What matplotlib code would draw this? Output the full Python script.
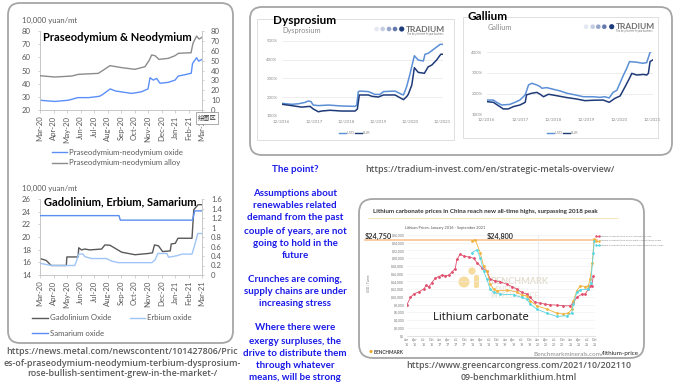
import matplotlib
matplotlib.use('Agg')
import matplotlib.pyplot as plt
from matplotlib.patches import FancyBboxPatch, Rectangle, Circle
from matplotlib.lines import Line2D

W, H = 680, 388
plt.rcParams['font.family'] = ['Lato', 'DejaVu Sans']

# ---------------- data ----------------
month_labels = ['Mar-20', 'Apr-20', 'May-20', 'Jun-20', 'Jul-20', 'Aug-20', 'Sep-20',
                'Oct-20', 'Nov-20', 'Dec-20', 'Jan-21', 'Feb-21', 'Mar-21']

# Praseodymium-neodymium oxide (left axis, 10,000 yuan/mt)
pn_oxide_month = [0, 1.1, 2.1, 2.8, 3.6, 4.4, 4.6, 5.2, 5.6, 6.8, 7.5, 8.0, 8.15, 8.4,
                  8.64, 8.89, 9.5, 10.0, 10.25, 10.6, 11.2, 11.3, 11.6, 11.75, 12.0]
pn_oxide = [27.4, 26.5, 27.4, 29.4, 29.4, 30.4, 31.5, 36.0, 34.4, 32.6, 33.8, 36.0, 44.5, 42.7,
            44.0, 40.3, 41.0, 42.7, 45.8, 46.5, 47.9, 55.4, 59.7, 57.1, 58.4]
# Praseodymium-neodymium alloy (right axis)
pn_alloy_month = [0, 1.11, 2.35, 2.84, 4.32, 5.19, 6.05, 7.04, 7.78, 8.10, 8.27, 8.52, 8.81,
                  9.51, 10.0, 10.25, 11.19, 11.33, 11.6, 11.78, 12.0]
pn_alloy = [34.7, 33.4, 34.4, 36.1, 37.1, 44.9, 42.9, 41.2, 43.9, 50.6, 55.7, 55.0, 51.3,
            52.3, 55.0, 57.4, 58.0, 67.5, 74.9, 71.9, 73.6]

# Gadolinium oxide (left axis)
gd_month = [0, 0.46, 0.83, 1.95, 1.99, 2.82, 2.87, 3.07, 3.32, 3.69, 4.56, 4.81, 5.18, 6.05,
            7.04, 8.03, 8.33, 8.48, 8.78, 9.08, 9.65, 9.72, 10.02, 10.22, 11.26, 11.39, 11.71, 12.0]
gd_oxide = [16.6, 16.3, 15.5, 15.5, 16.85, 16.85, 18.3, 17.96, 18.1, 17.96, 18.1, 18.75, 18.7,
            17.6, 17.2, 17.4, 17.5, 18.75, 18.6, 17.7, 17.8, 18.9, 19.0, 19.8, 19.8, 24.3, 25.1, 25.1]
# Erbium oxide (left axis)
er_month = [0, 0.83, 2.57, 2.69, 2.87, 3.19, 3.32, 3.81, 4.93, 5.30, 5.80, 8.28, 8.53, 8.73,
            9.40, 9.52, 10.15, 10.52, 11.26, 11.46, 11.69, 12.0]
er_oxide = [15.85, 15.5, 15.5, 16.1, 17.3, 17.3, 16.9, 16.6, 16.6, 16.2, 15.95, 15.95, 16.4,
            17.4, 17.4, 16.8, 17.05, 17.3, 17.3, 18.75, 20.55, 20.55]
# Samarium oxide (right axis)
sm_month = [0, 5.85, 5.95, 11.3, 11.46, 12.0]
sm_oxide = [1.25, 1.25, 1.155, 1.155, 1.35, 1.35]

tradium_years = ['12/2016', '12/2017', '12/2018', '12/2019', '12/2020', '12/2021']
# Dysprosium index (%), x in years since 12/2016
dy_usd_t = [0.02, 0.31, 0.52, 0.72, 0.83, 0.91, 0.98, 1.14, 1.45, 1.86, 2.28, 2.33, 2.38, 2.43,
            2.69, 2.90, 3.05, 3.16, 3.52, 3.73, 3.78, 3.88, 3.99, 4.12, 4.24, 4.40, 4.45, 4.55,
            4.76, 4.92, 5.0]
dy_usd = [166, 161, 164, 171, 179, 175, 157, 154, 157, 152, 150, 157, 229, 232, 229, 214, 214,
          229, 232, 214, 211, 255, 327, 421, 398, 393, 429, 434, 461, 482, 482]
dy_eur_t = [0.02, 0.31, 0.62, 0.88, 0.98, 1.14, 1.24, 1.50, 1.86, 2.28, 2.35, 2.41, 2.69, 2.80,
            3.00, 3.16, 3.52, 3.78, 3.88, 3.93, 4.04, 4.12, 4.24, 4.43, 4.55, 4.66, 4.81, 4.94, 5.0]
dy_eur = [161, 154, 146, 150, 136, 121, 125, 129, 125, 125, 136, 211, 211, 204, 200, 211, 211,
          186, 202, 214, 264, 357, 332, 327, 362, 371, 398, 429, 429]
# Gallium index (%)
ga_usd_t = [0.02, 0.20, 0.30, 0.45, 0.70, 0.85, 1.00, 1.16, 1.26, 1.36, 1.51, 1.61, 1.66, 1.81,
            1.96, 2.21, 2.41, 2.66, 2.91, 3.21, 3.41, 3.56, 3.69, 3.80, 3.92, 4.12, 4.22, 4.30,
            4.52, 4.70, 4.82, 4.92, 5.0]
ga_usd = [169, 169, 158, 145, 148, 158, 169, 194, 242, 250, 242, 234, 226, 229, 223, 213, 202,
          194, 185, 185, 182, 185, 179, 205, 216, 290, 323, 355, 352, 347, 350, 400, 410]
ga_eur_t = [0.02, 0.20, 0.35, 0.50, 0.65, 0.80, 1.00, 1.16, 1.20, 1.36, 1.51, 1.61, 1.71, 1.86,
            2.11, 2.41, 2.71, 2.96, 3.21, 3.51, 3.69, 3.86, 4.02, 4.17, 4.30, 4.37, 4.52, 4.72,
            4.82, 4.87, 4.92, 5.0]
ga_eur = [161, 158, 142, 126, 126, 137, 145, 158, 194, 202, 206, 197, 185, 197, 190, 181, 174,
          166, 168, 169, 158, 177, 189, 234, 274, 298, 290, 293, 290, 298, 355, 363]

# Lithium carbonate prices (USD/tonne), x in quarters since Jan 2016
li_quarter_labels = [f'{m}\n{y}' for y in range(16, 22) for m in ['Jan', 'Apr', 'Jul', 'Oct']]
li_red_q = [0, 0.41, 0.81, 1.43, 2.04, 2.36, 2.65, 3.05, 3.46, 3.87, 4.28, 4.68, 5.09, 5.50,
            5.90, 6.11, 6.51, 6.92, 7.53, 8.14, 8.55, 9.16, 9.77, 10.18, 10.79, 11.40, 12.21,
            12.83, 13.44, 14.05, 14.66, 15.07, 15.68, 16.29, 16.90, 17.51, 18.32, 19.14, 19.95,
            20.36, 20.77, 21.38, 21.78, 22.19, 22.39, 22.60, 22.80]
li_red = [7980, 9870, 10730, 11330, 12020, 13050, 12620, 13730, 14850, 15280, 15620, 15450,
          15620, 16480, 17340, 19740, 21030, 20600, 20340, 20000, 18880, 17600, 16740, 14590,
          14160, 13910, 13300, 12700, 12020, 11160, 10730, 9870, 8580, 8410, 8150, 7980, 7900,
          7730, 7730, 8580, 9870, 10730, 10730, 12020, 12880, 12880, 15450]
li_orange_q = [7.94, 8.35, 8.96, 9.36, 9.77, 10.18, 10.59, 10.99, 12.21, 13.44, 14.05, 14.66,
               15.07, 15.88, 17.10, 18.32, 19.14, 19.75, 20.15, 20.36, 20.77, 21.17, 21.78,
               22.19, 22.39, 22.68, 22.88]
li_orange = [24460, 24720, 21460, 18030, 16740, 13300, 12020, 11590, 11760, 11330, 10470, 10300,
             9010, 7730, 6870, 5840, 5580, 5840, 6870, 9010, 11590, 12880, 12700, 12880, 14590,
             18880, 24890]
li_cyan_q = [7.94, 8.55, 8.96, 9.36, 9.77, 10.18, 10.59, 11.40, 13.03, 14.05, 14.66, 15.07,
             15.88, 17.10, 18.32, 19.54, 20.15, 20.36, 20.77, 21.17, 22.19, 22.48, 22.80, 22.92]
li_cyan = [21460, 22150, 20170, 16740, 14590, 12020, 11160, 10730, 10560, 9870, 9440, 8150,
           6870, 5840, 4980, 5150, 5840, 8150, 11160, 11850, 12020, 13730, 21460, 24460]
li_peak = 24800

# ---------------- figure ----------------
fig = plt.figure(figsize=(W / 100, H / 100), dpi=100)
fig.patch.set_facecolor('white')


def ax_px(x0, y0, x1, y1, z=5):
    return fig.add_axes([x0 / W, 1 - y1 / H, (x1 - x0) / W, (y1 - y0) / H], zorder=z)


bg = ax_px(0, 0, W, H, z=0)
bg.set_xlim(0, W); bg.set_ylim(H, 0); bg.axis('off')
fg = ax_px(0, 0, W, H, z=20)
fg.set_xlim(0, W); fg.set_ylim(H, 0); fg.axis('off')


def rbox(x0, y0, x1, y1, r, ec='#a6a6a6', lw=1.3):
    bg.add_patch(FancyBboxPatch((x0, y0), x1 - x0, y1 - y0,
                                boxstyle=f'round,pad=0,rounding_size={r}',
                                fc='white', ec=ec, lw=lw, zorder=1))


rbox(8, 3, 233, 343, 12)
rbox(250, 7, 672, 155, 12)
rbox(359, 199, 644, 358, 14)

TICK = '#595959'
SP = '#bfbfbf'


def excel_axes(ax, axb, xlim, ylim, yticks, ylim2, yticks2, ytl2=None):
    ax.set_xlim(*xlim); ax.set_ylim(*ylim); ax.set_yticks(yticks)
    axb.set_ylim(*ylim2); axb.set_yticks(yticks2)
    if ytl2 is not None:
        axb.set_yticklabels(ytl2)
    ax.set_xticks(range(13))
    ax.set_xticklabels(month_labels, rotation=90)
    for a in (ax, axb):
        for s in a.spines.values():
            s.set_color(SP); s.set_linewidth(0.6)
        a.spines['top'].set_visible(False)
        a.patch.set_alpha(0)
    ax.spines['right'].set_visible(False)
    axb.spines['left'].set_visible(False)
    axb.spines['bottom'].set_visible(False)
    ax.tick_params(axis='x', labelsize=5.6, labelcolor=TICK, color=SP, length=2, width=0.5, pad=2)
    ax.tick_params(axis='y', labelsize=5.6, labelcolor=TICK, color=SP, length=1.5, width=0.5, pad=5)
    axb.tick_params(axis='y', labelsize=5.6, labelcolor=TICK, color=SP, length=1.5, width=0.5, pad=5)


# Chart 1: Praseodymium & Neodymium
ax1 = ax_px(40, 31, 202, 110)
ax1.plot(pn_oxide_month, pn_oxide, color='#5b8ff9', lw=1.0)
ax1b = ax1.twinx()
ax1b.plot(pn_alloy_month, pn_alloy, color='#8c8c8c', lw=1.0)
excel_axes(ax1, ax1b, (0, 12), (20, 80), range(20, 81, 10), (0, 80), range(0, 81, 10))

fg.text(22, 20, '10,000 yuan/mt', fontsize=5.6, color=TICK, va='center')
fg.text(43, 37.5, 'Praseodymium & Neodymium', fontsize=8, fontweight='bold', va='center')
fg.text(207, 118, '绘图区', fontsize=4.5, color='#333333', ha='center', va='center',
        family=['Noto Sans CJK SC', 'DejaVu Sans'],
        bbox=dict(boxstyle='square,pad=0.25', fc='white', ec='#8c8c8c', lw=0.5))
fg.add_line(Line2D([52, 67], [152, 152], color='#5b8ff9', lw=1.0))
fg.text(69, 152, 'Praseodymium-neodymium oxide', fontsize=5.6, color=TICK, va='center')
fg.add_line(Line2D([52, 67], [163, 163], color='#8c8c8c', lw=1.0))
fg.text(69, 163, 'Praseodymium-neodymium alloy', fontsize=5.6, color=TICK, va='center')

# Chart 2: Gadolinium, Erbium, Samarium
ax2 = ax_px(40, 199, 202, 275)
ax2.plot(gd_month, gd_oxide, color='#595959', lw=1.0)
ax2.plot(er_month, er_oxide, color='#9fc5f8', lw=1.0)
ax2b = ax2.twinx()
ax2b.plot(sm_month, sm_oxide, color='#5b8ef0', lw=1.0)
excel_axes(ax2, ax2b, (0, 12), (14, 26), range(14, 27, 2), (0, 1.6),
           [0, 0.2, 0.4, 0.6, 0.8, 1.0, 1.2, 1.4, 1.6],
           ['0', '0.2', '0.4', '0.6', '0.8', '1', '1.2', '1.4', '1.6'])

fg.text(22, 188, '10,000 yuan/mt', fontsize=5.6, color=TICK, va='center')
fg.text(44, 201.5, 'Gadolinium, Erbium, Samarium', fontsize=8, fontweight='bold', va='center')
fg.add_line(Line2D([32, 48], [318, 318], color='#595959', lw=1.0))
fg.text(50, 318, 'Gadolinium Oxide', fontsize=5.6, color=TICK, va='center')
fg.add_line(Line2D([130, 145], [318, 318], color='#9fc5f8', lw=1.0))
fg.text(147, 318, 'Erbium oxide', fontsize=5.6, color=TICK, va='center')
fg.add_line(Line2D([32, 48], [333, 333], color='#5b8ef0', lw=1.0))
fg.text(50, 333, 'Samarium oxide', fontsize=5.6, color=TICK, va='center')

# Left source URL
URL = '#595959'
for txt, y in [('https://news.metal.com/newscontent/101427806/Pric', 352),
               ('es-of-praseodymium-neodymium-terbium-dysprosium-', 363),
               ('rose-bullish-sentiment-grew-in-the-market-/', 374)]:
    fg.text(122, y, txt, fontsize=6.4, color=URL, ha='center', va='center',
            family=['Open Sans', 'DejaVu Sans'], fontweight='semibold')

# ---------------- Tradium panels ----------------
USD_C = '#5b8fd6'
EUR_C = '#1f3a78'
logo_cols = ['#e4e8f1', '#c5cde2', '#97a5cb', '#6479ae', '#1f3c7a']


def tradium_panel(box, axbox, title, title_xy, sub_xy, logo_x, logo_y, tlab_x,
                  t_usd, v_usd, t_eur, v_eur, ylim, yticks, leg_x, leg_y):
    bx0, by0, bx1, by1 = box
    bg.add_patch(Rectangle((bx0, by0), bx1 - bx0, by1 - by0, fc='white', ec='#d9d9d9',
                           lw=0.6, zorder=2))
    ax = ax_px(*axbox)
    ax.patch.set_alpha(0)
    ax.plot(t_usd, v_usd, color=USD_C, lw=1.1)
    ax.plot(t_eur, v_eur, color=EUR_C, lw=1.1)
    ax.set_xlim(0, 5); ax.set_ylim(*ylim)
    ax.set_yticks(yticks)
    ax.set_yticklabels([f'{v}%' for v in yticks])
    ax.set_xticks(range(6)); ax.set_xticklabels(tradium_years)
    ax.grid(axis='y', color='#e8e8e8', lw=0.5)
    ax.set_axisbelow(True)
    for s in ax.spines.values():
        s.set_visible(False)
    ax.tick_params(labelsize=3.2, labelcolor='#8c8c8c', length=0, pad=3)
    fg.text(title_xy[0], title_xy[1], title, fontsize=8.5, fontweight='bold', va='center')
    fg.text(sub_xy[0], sub_xy[1], title, fontsize=5.3, color='#8c8c8c', va='center')
    for i, (cx, col) in enumerate(zip(logo_x, logo_cols)):
        fg.add_patch(Circle((cx, logo_y), 2.3 if i < 4 else 2.6, fc=col, ec='none'))
    fg.text(tlab_x, logo_y, 'TRADIUM', fontsize=6, fontweight='bold', color='#707070',
            va='center')
    fg.text(tlab_x + 1, logo_y + 4.6, 'The key element in your business', fontsize=1.8,
            color='#707070', va='center')
    fg.add_line(Line2D([leg_x, leg_x + 7], [leg_y, leg_y], color=USD_C, lw=1.0))
    fg.text(leg_x + 8, leg_y, 'USD', fontsize=2.8, color='#8c8c8c', va='center')
    fg.add_line(Line2D([leg_x + 16, leg_x + 23], [leg_y, leg_y], color=EUR_C, lw=1.0))
    fg.text(leg_x + 24, leg_y, 'EUR', fontsize=2.8, color='#8c8c8c', va='center')


tradium_panel((257, 19, 454, 140), (281.7, 41, 442.7, 115.7), 'Dysprosium', (273, 20),
              (282, 30), [376.7, 382.7, 389, 395, 401.7], 29, 406,
              dy_usd_t, dy_usd, dy_eur_t, dy_eur, (100, 500), [100, 200, 300, 400, 500],
              339, 133)
tradium_panel((463, 17, 658, 138), (486.7, 52.3, 652.7, 114.3), 'Gallium', (467, 16),
              (488, 28), [586, 592.7, 598.3, 604.3, 611.7], 26.7, 615.5,
              ga_usd_t, ga_usd, ga_eur_t, ga_eur, (100, 400), [100, 200, 300, 400],
              547, 132.5)

fg.text(490, 170, 'https://tradium-invest.com/en/strategic-metals-overview/', fontsize=6.4,
        color=URL, ha='center', va='center', family=['Open Sans', 'DejaVu Sans'],
        fontweight='semibold')

# ---------------- Blue commentary ----------------
BLUE = '#1a1ae8'
blue_lines = [('The point?', 169), ('Assumptions about', 194), ('renewables related', 206),
              ('demand from the past', 218), ('couple of years, are not', 231),
              ('going to hold in the', 243), ('future', 255), ('Crunches are coming,', 280),
              ('supply chains are under', 292), ('increasing stress', 304),
              ('Where there were', 328), ('exergy surpluses, the', 341),
              ('drive to distribute them', 353), ('through whatever', 365),
              ('means, will be strong', 377)]
for txt, y in blue_lines:
    fg.text(295, y, txt, fontsize=7, fontweight='bold', color=BLUE, ha='center', va='center')

# ---------------- Lithium carbonate chart ----------------
fg.text(373, 212, 'Lithium carbonate prices in China reach new all-time highs, surpassing 2018 peak',
        fontsize=4.5, fontweight='bold', color='#333333', va='center')
fg.add_line(Line2D([368, 618], [217.5, 217.5], color='#f6e2b3', lw=0.6))
fg.text(405, 228, 'Lithium Prices: January 2016 - September 2021', fontsize=2.8,
        color='#555555', va='center')

# watermark (behind the chart)
WM = '#f6dc9e'
bg.add_patch(Circle((472, 271), 3.6, fc=WM, ec='none', zorder=3))
bg.add_patch(Circle((464, 282), 5.5, fc=WM, ec='none', zorder=3))
bg.add_patch(FancyBboxPatch((474, 275), 5, 13, boxstyle='round,pad=0,rounding_size=2',
                            fc=WM, ec='none', zorder=3))
bg.text(490, 282, 'BENCHMARK', fontsize=6.5, fontweight='bold', color='#e2dccd', va='center',
        zorder=3)
bg.text(490, 289.5, 'MINERAL', fontsize=5, fontweight='bold', color='#ece7dc', va='center',
        zorder=3)
bg.text(490, 296, 'INTELLIGENCE', fontsize=5, fontweight='bold', color='#ece7dc', va='center',
        zorder=3)

axL = ax_px(407, 235, 595, 335.7, z=6)
axL.patch.set_alpha(0)
axL.set_xlim(0, 23); axL.set_ylim(0, 26000)
yt = list(range(0, 26001, 2000))
axL.set_yticks(yt)
axL.set_yticklabels([f'${v:,}' for v in yt])
axL.set_xticks(range(24)); axL.set_xticklabels(li_quarter_labels)
axL.grid(axis='y', color='#eeeeee', lw=0.4)
axL.axvline(16, color='#e3e3e3', lw=0.5)
axL.set_axisbelow(True)
for s in axL.spines.values():
    s.set_visible(False)
axL.spines['bottom'].set_visible(True); axL.spines['bottom'].set_color('#cccccc')
axL.spines['bottom'].set_linewidth(0.4)
axL.tick_params(labelsize=2.5, labelcolor='#777777', length=0, pad=2)
# orange peak line (extends left of the plot), placed through the chart's own scale
peak_y = axL.transData.transform((0, li_peak))[1]
peak_px = H - peak_y * 100.0 / fig.dpi
bg.add_line(Line2D([365, 597], [peak_px, peak_px], color='#f9cda3', lw=1.4, zorder=4))
axL.plot(li_red_q, li_red, color='#e0506e', lw=0.6, marker='o', ms=1.0)
axL.plot(li_orange_q, li_orange, color='#f0b23c', lw=0.6, marker='o', ms=1.0)
axL.plot(li_cyan_q, li_cyan, color='#5ad6e0', lw=0.6, marker='o', ms=1.0)

fg.text(365, 236, '$24,750', fontsize=5.2, fontweight='bold', color='#333333', va='center')
fg.text(487, 236, '$24,800', fontsize=5.2, fontweight='bold', color='#333333', va='center')
fg.text(369, 283, 'USD / Tonne', fontsize=2.2, color='#777777', rotation=90, ha='center',
        va='center')
leg = [('#e0506e', 'Lithium Carbonate (Min 99.5% Li2CO3) CIF Asia', 236),
       ('#f0b23c', 'Lithium Carbonate (Min 99.5% Battery Grade) EXW China', 240.5),
       ('#5ad6e0', 'Lithium Carbonate (Min 99.0% Technical Grade) EXW China', 245)]
for c, t, y in leg:
    fg.add_line(Line2D([596, 599], [y, y], color=c, lw=0.6, marker='o', ms=0.8))
    fg.text(600, y, t, fontsize=1.7, color='#777777', va='center')

fg.text(433, 318, 'Lithium carbonate', fontsize=8, color='#111111', va='center',
        family=['Open Sans', 'DejaVu Sans'])
fg.add_patch(Circle((371, 351.5), 1.6, fc='#f0a830', ec='none'))
fg.text(374, 352, 'BENCHMARK', fontsize=3.4, fontweight='bold', color='#444444', va='center')
fg.text(601, 354, 'Benchmarkminerals.com', fontsize=4.5, color='#8c8c8c', va='center',
        ha='right')
fg.text(601, 354, '/lithium-price', fontsize=4.5, color='#222222', va='center', ha='left')

for txt, y in [('https://www.greencarcongress.com/2021/10/202110', 365),
               ('09-benchmarklithium.html', 377)]:
    fg.text(519, y, txt, fontsize=6.4, color=URL, ha='center', va='center',
            family=['Open Sans', 'DejaVu Sans'], fontweight='semibold')

fig.savefig('out.png', dpi=100)
